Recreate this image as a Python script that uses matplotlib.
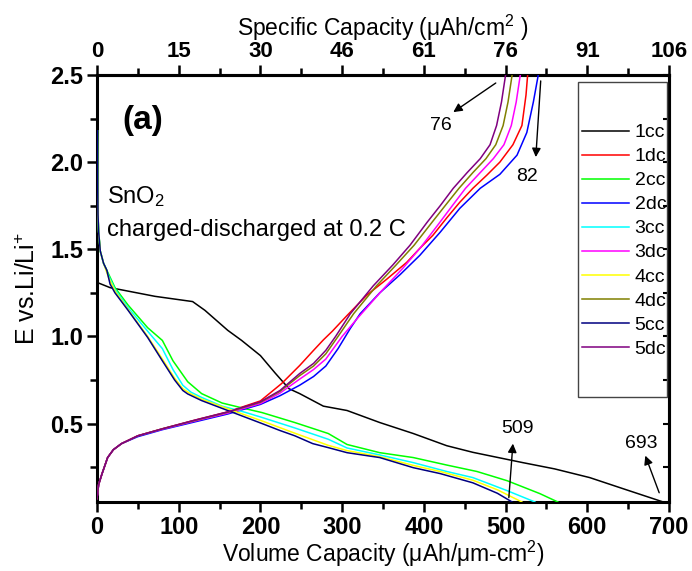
import matplotlib

matplotlib.use("Agg")
import matplotlib.pyplot as plt
from matplotlib import font_manager
from matplotlib.patches import Rectangle
from matplotlib.ticker import MultipleLocator


# volume capacity (uAh/um-cm2) vs potential (V)
CC1_X = [0, 16, 71, 117, 132, 160, 177, 200, 218, 235, 248, 277, 306, 346, 387, 428, 460, 521, 560, 603, 644, 693]
CC1_Y = [1.31, 1.28, 1.23, 1.20, 1.15, 1.035, 0.977, 0.89, 0.79, 0.70, 0.672, 0.60, 0.575, 0.506, 0.443,
         0.373, 0.335, 0.276, 0.24, 0.19, 0.126, 0.05]

CC2_X = [0.5, 0.8, 1.2, 2, 4, 8, 14, 22, 38, 62, 80, 93, 111, 128, 153, 181, 202, 242, 283, 306, 346, 387,
         428, 465, 502, 542, 564]
CC2_Y = [2.18, 1.9, 1.7, 1.6, 1.49, 1.42, 1.36, 1.28, 1.18, 1.05, 0.977, 0.86, 0.74, 0.672, 0.618, 0.586,
         0.563, 0.506, 0.443, 0.38, 0.333, 0.305, 0.262, 0.225, 0.172, 0.098, 0.05]

CC3_X = [0.5, 0.8, 1.2, 2, 4, 8, 14, 22, 38, 62, 80, 93, 105, 115, 128, 153, 181, 202, 242, 283, 306, 346,
         387, 428, 460, 502, 536]
CC3_Y = [2.18, 1.9, 1.7, 1.6, 1.49, 1.42, 1.35, 1.27, 1.165, 1.03, 0.93, 0.81, 0.72, 0.68, 0.65, 0.60,
         0.565, 0.535, 0.475, 0.41, 0.36, 0.32, 0.276, 0.225, 0.19, 0.115, 0.05]

CC4_X = [0.5, 0.8, 1.2, 2, 4, 8, 14, 22, 38, 62, 80, 95, 105, 113, 128, 160, 202, 242, 283, 306, 346, 387,
         420, 460, 490, 520]
CC4_Y = [2.18, 1.9, 1.7, 1.6, 1.49, 1.42, 1.34, 1.26, 1.155, 1.00, 0.87, 0.76, 0.70, 0.675, 0.64, 0.585,
         0.515, 0.445, 0.375, 0.345, 0.31, 0.26, 0.225, 0.175, 0.12, 0.05]

CC5_X = [0.5, 0.8, 1.2, 2, 4, 8, 12, 16, 22, 38, 62, 80, 95, 105, 111, 128, 160, 202, 224, 242, 264, 283,
         306, 346, 387, 420, 460, 490, 508]
CC5_Y = [2.18, 1.9, 1.7, 1.6, 1.49, 1.42, 1.38, 1.30, 1.25, 1.15, 0.994, 0.86, 0.75, 0.69, 0.67, 0.632,
         0.575, 0.50, 0.46, 0.43, 0.385, 0.362, 0.333, 0.305, 0.247, 0.213, 0.16, 0.10, 0.05]

DC1_X = [0, 2, 6, 13, 20, 30, 50, 80, 120, 160, 200, 226, 248, 265, 277, 288, 306, 330, 355, 379, 395, 411,
         428, 444, 460, 477, 493, 509, 520, 525, 527]
DC1_Y = [0.07, 0.15, 0.21, 0.305, 0.35, 0.385, 0.43, 0.47, 0.52, 0.567, 0.63, 0.73, 0.833, 0.92, 0.98, 1.03,
         1.12, 1.236, 1.33, 1.425, 1.505, 1.58, 1.68, 1.77, 1.85, 1.925, 2.0, 2.10, 2.21, 2.385, 2.5]

DC2_X = [0, 2, 6, 13, 20, 30, 50, 80, 120, 160, 200, 224, 248, 265, 280, 295, 310, 322, 346, 371, 395, 420,
         444, 469, 493, 514, 526, 534, 540]
DC2_Y = [0.07, 0.15, 0.21, 0.305, 0.35, 0.385, 0.425, 0.465, 0.51, 0.555, 0.61, 0.66, 0.72, 0.77, 0.83, 0.93,
         1.046, 1.13, 1.25, 1.355, 1.465, 1.598, 1.735, 1.85, 1.93, 2.04, 2.17, 2.345, 2.5]

DC3_X = [0, 2, 6, 13, 20, 30, 50, 80, 120, 160, 200, 224, 248, 265, 280, 300, 318, 350, 374, 396, 418, 434,
         451, 469, 485, 498, 507, 513, 518]
DC3_Y = [0.07, 0.15, 0.21, 0.305, 0.35, 0.385, 0.43, 0.468, 0.515, 0.56, 0.615, 0.675, 0.755, 0.81, 0.87,
         1.0, 1.10, 1.27, 1.39, 1.51, 1.645, 1.745, 1.85, 1.94, 2.02, 2.10, 2.21, 2.345, 2.5]

DC4_X = [0, 2, 6, 13, 20, 30, 50, 80, 120, 160, 200, 224, 248, 265, 280, 295, 314, 342, 366, 388, 410, 426,
         443, 460, 476, 488, 497, 503, 508]
DC4_Y = [0.07, 0.15, 0.21, 0.305, 0.35, 0.385, 0.43, 0.47, 0.518, 0.565, 0.622, 0.685, 0.775, 0.83, 0.9,
         1.0, 1.13, 1.29, 1.41, 1.523, 1.655, 1.75, 1.85, 1.94, 2.02, 2.10, 2.21, 2.345, 2.5]

DC5_X = [0, 2, 6, 13, 20, 30, 50, 80, 120, 160, 200, 224, 248, 265, 280, 292, 310, 338, 362, 383, 404, 420,
         436, 453, 469, 481, 489, 495, 500]
DC5_Y = [0.07, 0.15, 0.21, 0.305, 0.35, 0.385, 0.43, 0.47, 0.52, 0.567, 0.625, 0.69, 0.787, 0.845, 0.92,
         1.0, 1.13, 1.29, 1.41, 1.523, 1.655, 1.75, 1.85, 1.94, 2.02, 2.10, 2.21, 2.345, 2.5]

LABELS = ["1cc", "1dc", "2cc", "2dc", "3cc", "3dc", "4cc", "4dc", "5cc", "5dc"]
COLORS = ["#000000", "#FF0000", "#00FF00", "#0000FF", "#00FFFF",
          "#FF00FF", "#FFFF00", "#808000", "#000080", "#800080"]

BOTTOM_TICKS = [0, 100, 200, 300, 400, 500, 600, 700]
TOP_TICK_LABELS = ["0", "15", "30", "46", "61", "76", "91", "106"]
Y_TICKS = [0.5, 1.0, 1.5, 2.0, 2.5]

# (label, arrow tail, arrow head, text position) in data units
NOTES = [
    ("76", (488, 2.454), (436, 2.287), (421, 2.213)),
    ("82", (543, 2.466), (537, 2.029), (526, 1.92)),
    ("509", (504, 0.075), (509, 0.385), (515, 0.471)),
    ("693", (688, 0.103), (671, 0.316), (666, 0.385)),
]


def pick_font(candidates):
    available = {f.name for f in font_manager.fontManager.ttflist}
    for name in candidates:
        if name in available:
            return name
    return "DejaVu Sans"


def main():
    regular = pick_font(["Liberation Sans", "Arial"])
    narrow = pick_font(["Liberation Sans Narrow", "Arial Narrow", "Liberation Sans"])
    plt.rcParams["font.family"] = [regular, "DejaVu Sans"]
    plt.rcParams["mathtext.fontset"] = "custom"
    plt.rcParams["mathtext.rm"] = regular
    plt.rcParams["mathtext.it"] = regular + ":italic"
    plt.rcParams["mathtext.bf"] = regular + ":bold"

    fig = plt.figure(figsize=(6.92, 5.71), dpi=100)
    ax = fig.add_axes([97 / 692, 1 - 502 / 571, 572 / 692, 427 / 571])

    series = [(CC1_X, CC1_Y), (DC1_X, DC1_Y), (CC2_X, CC2_Y), (DC2_X, DC2_Y), (CC3_X, CC3_Y),
              (DC3_X, DC3_Y), (CC4_X, CC4_Y), (DC4_X, DC4_Y), (CC5_X, CC5_Y), (DC5_X, DC5_Y)]
    handles = []
    for (xs, ys), label, color in zip(series, LABELS, COLORS):
        line, = ax.plot(xs, ys, color=color, lw=1.1, label=label, solid_joinstyle="round", zorder=3)
        handles.append(line)

    ax.set_xlim(0, 700)
    ax.set_ylim(0.05, 2.5)
    for spine in ax.spines.values():
        spine.set_linewidth(2.2)

    ax.set_xticks(BOTTOM_TICKS)
    ax.xaxis.set_minor_locator(MultipleLocator(50))
    ax.set_yticks(Y_TICKS)
    ax.set_yticklabels([f"{v:.1f}" for v in Y_TICKS])
    ax.yaxis.set_minor_locator(MultipleLocator(0.25))
    ax.tick_params(which="major", direction="out", length=7, width=1.8, labelsize=17, pad=3)
    ax.tick_params(which="minor", direction="out", length=5, width=1.8)

    top = ax.secondary_xaxis("top")
    top.set_xticks(BOTTOM_TICKS, TOP_TICK_LABELS)
    top.xaxis.set_minor_locator(MultipleLocator(50))
    top.tick_params(which="major", direction="out", length=7, width=1.8, labelsize=16, pad=2)
    top.tick_params(which="minor", direction="out", length=5, width=1.8)
    top.spines["top"].set_linewidth(2.2)

    right = ax.secondary_yaxis("right")
    right.set_yticks([0.25, 0.5, 0.75, 1.0, 1.25, 1.5, 1.75, 2.0, 2.25, 2.5])
    right.tick_params(direction="in", length=4, width=1.5, labelright=False)
    right.spines["right"].set_linewidth(2.2)

    for lab in ax.get_xticklabels() + ax.get_yticklabels() + top.get_xticklabels():
        lab.set_fontfamily(narrow)
        lab.set_fontweight("bold")

    ax.set_xlabel("Volume Capacity (\u03bcAh/\u03bcm-cm$^{2}$)", fontsize=16.5)
    ax.xaxis.set_label_coords(0.5, -0.086)
    top.set_xlabel("Specific Capacity (\u03bcAh/cm$^{2}$ )", fontsize=16.5, labelpad=4)
    ax.set_ylabel("E vs.Li/Li$^{+}$", fontsize=18)
    ax.yaxis.set_label_coords(-0.10, 0.50)

    ax.text(56, 2.24, "(a)", fontsize=24, fontweight="bold", ha="center", va="center")
    ax.text(12, 1.764, "SnO$_2$", fontsize=17, ha="left", va="baseline")
    ax.text(12, 1.575, "charged-discharged at 0.2 C", fontsize=17, ha="left", va="baseline")

    for label, tail, head, pos in NOTES:
        ax.annotate("", xy=head, xytext=tail,
                    arrowprops=dict(arrowstyle="-|>", color="black", lw=1.0, mutation_scale=13,
                                    shrinkA=0, shrinkB=0))
        ax.text(pos[0], pos[1], label, fontsize=14, ha="center", va="center")

    # legend box is much taller than its entries in the original
    box = Rectangle((0.841, 0.246), 0.1555, 0.738, transform=ax.transAxes, fill=False,
                    edgecolor="#444444", lw=1.0, zorder=5)
    ax.add_patch(box)
    ax.legend(handles=handles, loc="center left", bbox_to_anchor=(0.848, 0.612), frameon=False,
              fontsize=14, labelspacing=0.33, handlelength=2.4, handletextpad=0.3, borderpad=0,
              borderaxespad=0)

    fig.savefig("out.png", dpi=100, facecolor="white")
    plt.close(fig)


if __name__ == "__main__":
    main()
